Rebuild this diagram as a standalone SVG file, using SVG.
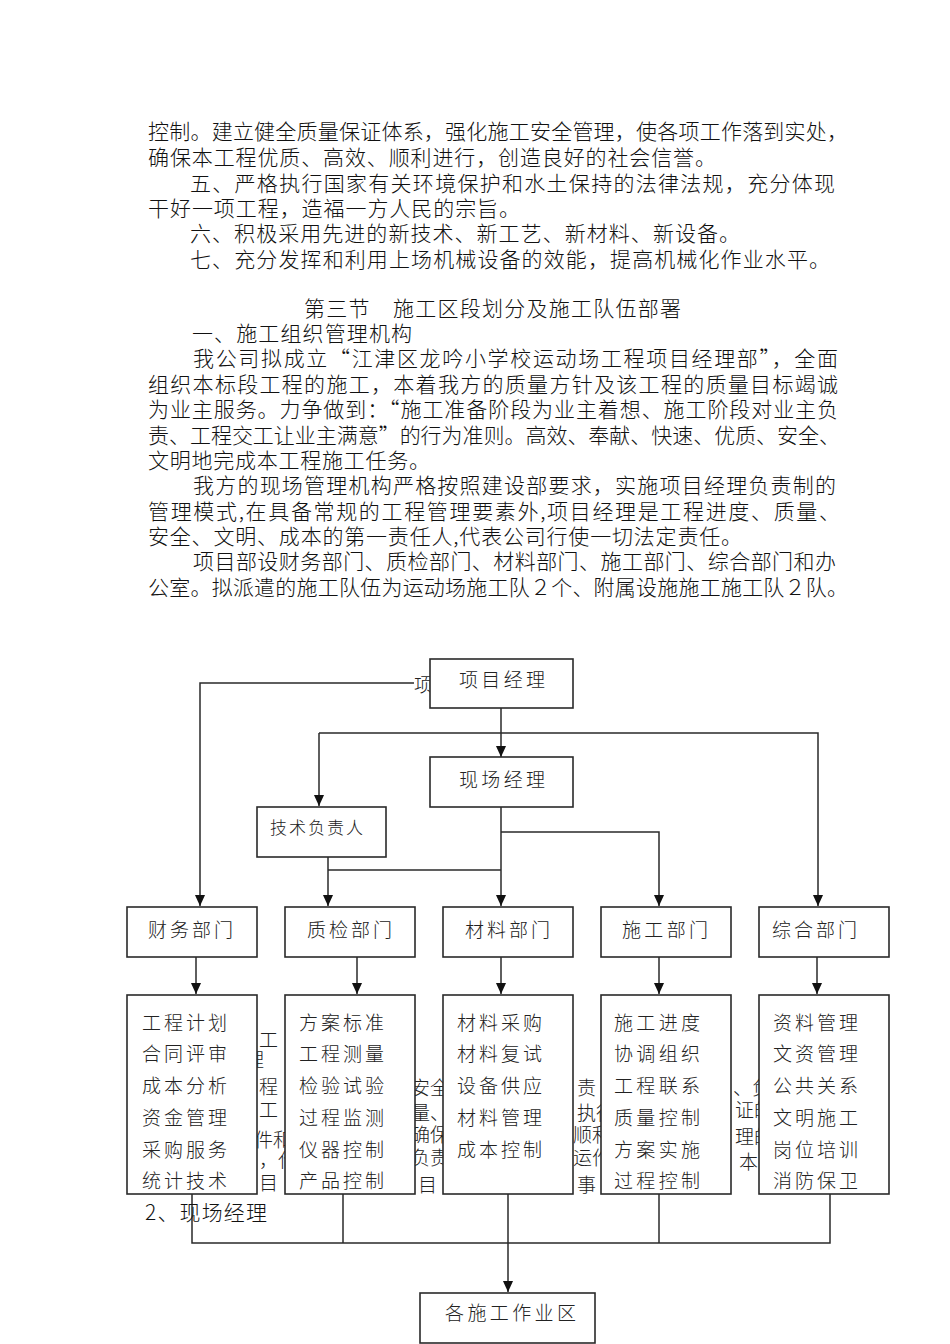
<svg xmlns="http://www.w3.org/2000/svg" width="950" height="1344" viewBox="0 0 950 1344">
<style>
.t{font-family:"Noto Sans CJK SC","Liberation Sans",sans-serif;font-size:21px;font-weight:300;fill:#111}
.f{font-family:"Noto Sans CJK SC","Liberation Sans",sans-serif;font-size:19px;font-weight:300;fill:#222}
.lb{font-family:"Noto Sans CJK SC","Liberation Sans",sans-serif;font-size:19px;font-weight:300;fill:#222}
.sm{font-family:"Noto Sans CJK SC","Liberation Sans",sans-serif;font-size:17px;font-weight:300;fill:#222}
.box{fill:#fff;stroke:#2a2a2a;stroke-width:1.6}
.ln{fill:none;stroke:#2a2a2a;stroke-width:1.5}
</style>
<defs>
<marker id="arr" markerWidth="11" markerHeight="12" refX="12" refY="5.5" orient="auto" markerUnits="userSpaceOnUse" viewBox="0 0 12 11">
<path d="M0,0 L12,5.5 L0,11 Z" fill="#111"/>
</marker>
</defs>

<g id="body-text">
<text class="t" x="148" y="139" textLength="700" lengthAdjust="spacing">控制。建立健全质量保证体系，强化施工安全管理，使各项工作落到实处，</text>
<text class="t" x="148" y="165" textLength="568" lengthAdjust="spacing">确保本工程优质、高效、顺利进行，创造良好的社会信誉。</text>
<text class="t" x="190" y="191" textLength="645" lengthAdjust="spacing">五、严格执行国家有关环境保护和水土保持的法律法规，充分体现</text>
<text class="t" x="148" y="216" textLength="372" lengthAdjust="spacing">干好一项工程，造福一方人民的宗旨。</text>
<text class="t" x="190" y="241" textLength="550" lengthAdjust="spacing">六、积极采用先进的新技术、新工艺、新材料、新设备。</text>
<text class="t" x="190" y="267" textLength="640" lengthAdjust="spacing">七、充分发挥和利用上场机械设备的效能，提高机械化作业水平。</text>
<text class="t" x="304" y="316" textLength="377" lengthAdjust="spacing">第三节　施工区段划分及施工队伍部署</text>
<text class="t" x="192" y="341" textLength="220" lengthAdjust="spacing">一、施工组织管理机构</text>
<text class="t" x="193" y="366" textLength="645" lengthAdjust="spacing">我公司拟成立“江津区龙吟小学校运动场工程项目经理部”，全面</text>
<text class="t" x="148" y="392" textLength="690" lengthAdjust="spacing">组织本标段工程的施工，本着我方的质量方针及该工程的质量目标竭诚</text>
<text class="t" x="148" y="417" textLength="690" lengthAdjust="spacing">为业主服务。力争做到：“施工准备阶段为业主着想、施工阶段对业主负</text>
<text class="t" x="148" y="443" textLength="692" lengthAdjust="spacing">责、工程交工让业主满意”的行为准则。高效、奉献、快速、优质、安全、</text>
<text class="t" x="148" y="468" textLength="282" lengthAdjust="spacing">文明地完成本工程施工任务。</text>
<text class="t" x="193" y="493" textLength="643" lengthAdjust="spacing">我方的现场管理机构严格按照建设部要求，实施项目经理负责制的</text>
<text class="t" x="148" y="519" textLength="692" lengthAdjust="spacing">管理模式,在具备常规的工程管理要素外,项目经理是工程进度、质量、</text>
<text class="t" x="148" y="544" textLength="594" lengthAdjust="spacing">安全、文明、成本的第一责任人,代表公司行使一切法定责任。</text>
<text class="t" x="193" y="569" textLength="643" lengthAdjust="spacing">项目部设财务部门、质检部门、材料部门、施工部门、综合部门和办</text>
<text class="t" x="148" y="595" textLength="700" lengthAdjust="spacing">公室。拟派遣的施工队伍为运动场施工队２个、附属设施施工施工队２队。</text>
</g>

<g id="hidden-fragments">
<text class="f" x="414" y="692">项</text>
<text class="f" x="259" y="1047">工</text>
<text class="f" x="245" y="1067">理</text>
<text class="f" x="259" y="1094">程</text>
<text class="f" x="259" y="1117">工</text>
<text class="f" x="254" y="1147">件和</text>
<text class="f" x="259" y="1167">，代</text>
<text class="f" x="259" y="1190">目</text>
<text class="f" x="411" y="1095">安全</text>
<text class="f" x="411" y="1120">量、</text>
<text class="f" x="411" y="1142">确保</text>
<text class="f" x="411" y="1165">负责</text>
<text class="f" x="418" y="1192">目</text>
<text class="f" x="577" y="1095">责</text>
<text class="f" x="577" y="1120">执行</text>
<text class="f" x="573" y="1142">顺利</text>
<text class="f" x="573" y="1165">运作</text>
<text class="f" x="577" y="1192">事</text>
<text class="f" x="733" y="1095">、负</text>
<text class="f" x="735" y="1117">证的</text>
<text class="f" x="735" y="1144">理的</text>
<text class="f" x="739" y="1169">本</text>
</g>

<g id="connectors">
<polyline class="ln" points="414,683 200,683 200,906" marker-end="url(#arr)"/>
<line class="ln" x1="501" y1="708" x2="501" y2="757" marker-end="url(#arr)"/>
<polyline class="ln" points="319,733 818,733 818,906" marker-end="url(#arr)"/>
<line class="ln" x1="319" y1="733" x2="319" y2="806" marker-end="url(#arr)"/>
<line class="ln" x1="501" y1="807" x2="501" y2="906" marker-end="url(#arr)"/>
<polyline class="ln" points="501,832 659,832 659,906" marker-end="url(#arr)"/>
<line class="ln" x1="328" y1="857" x2="328" y2="906" marker-end="url(#arr)"/>
<line class="ln" x1="328" y1="870" x2="501" y2="870"/>
<line class="ln" x1="196" y1="957" x2="196" y2="994" marker-end="url(#arr)"/>
<line class="ln" x1="357" y1="957" x2="357" y2="994" marker-end="url(#arr)"/>
<line class="ln" x1="501" y1="957" x2="501" y2="994" marker-end="url(#arr)"/>
<line class="ln" x1="659" y1="957" x2="659" y2="994" marker-end="url(#arr)"/>
<line class="ln" x1="817" y1="957" x2="817" y2="994" marker-end="url(#arr)"/>
<polyline class="ln" points="192,1194 192,1243 830,1243 830,1194"/>
<line class="ln" x1="343" y1="1194" x2="343" y2="1243"/>
<line class="ln" x1="659" y1="1194" x2="659" y2="1243"/>
<line class="ln" x1="508" y1="1194" x2="508" y2="1292" marker-end="url(#arr)"/>
</g>

<g id="n-xmjl"><rect class="box" x="430" y="659" width="143" height="49"/><text class="lb" x="459" y="687" textLength="86" lengthAdjust="spacing">项目经理</text></g>
<g id="n-xcjl"><rect class="box" x="430" y="757" width="143" height="50"/><text class="lb" x="459" y="787" textLength="86" lengthAdjust="spacing">现场经理</text></g>
<g id="n-jsfzr"><rect class="box" x="257" y="807" width="129" height="50"/><text class="sm" x="270" y="834" textLength="93" lengthAdjust="spacing">技术负责人</text></g>

<g id="n-cwbm"><rect class="box" x="127" y="907" width="130" height="50"/><text class="lb" x="148" y="937" textLength="85" lengthAdjust="spacing">财务部门</text></g>
<g id="n-zjbm"><rect class="box" x="285" y="907" width="130" height="50"/><text class="lb" x="307" y="937" textLength="85" lengthAdjust="spacing">质检部门</text></g>
<g id="n-clbm"><rect class="box" x="443" y="907" width="130" height="50"/><text class="lb" x="465" y="937" textLength="85" lengthAdjust="spacing">材料部门</text></g>
<g id="n-sgbm"><rect class="box" x="601" y="907" width="130" height="50"/><text class="lb" x="622" y="937" textLength="86" lengthAdjust="spacing">施工部门</text></g>
<g id="n-zhbm"><rect class="box" x="759" y="907" width="130" height="50"/><text class="lb" x="772" y="937" textLength="85" lengthAdjust="spacing">综合部门</text></g>

<g id="n-cw-list"><rect class="box" x="127" y="995" width="130" height="199"/>
<text class="lb" x="142" y="1030" textLength="85" lengthAdjust="spacing">工程计划</text>
<text class="lb" x="142" y="1061" textLength="85" lengthAdjust="spacing">合同评审</text>
<text class="lb" x="142" y="1093" textLength="85" lengthAdjust="spacing">成本分析</text>
<text class="lb" x="142" y="1125" textLength="85" lengthAdjust="spacing">资金管理</text>
<text class="lb" x="142" y="1157" textLength="85" lengthAdjust="spacing">采购服务</text>
<text class="lb" x="142" y="1188" textLength="85" lengthAdjust="spacing">统计技术</text>
</g>
<g id="n-zj-list"><rect class="box" x="285" y="995" width="130" height="199"/>
<text class="lb" x="299" y="1030" textLength="85" lengthAdjust="spacing">方案标准</text>
<text class="lb" x="299" y="1061" textLength="85" lengthAdjust="spacing">工程测量</text>
<text class="lb" x="299" y="1093" textLength="85" lengthAdjust="spacing">检验试验</text>
<text class="lb" x="299" y="1125" textLength="85" lengthAdjust="spacing">过程监测</text>
<text class="lb" x="299" y="1157" textLength="85" lengthAdjust="spacing">仪器控制</text>
<text class="lb" x="299" y="1188" textLength="85" lengthAdjust="spacing">产品控制</text>
</g>
<g id="n-cl-list"><rect class="box" x="443" y="995" width="130" height="199"/>
<text class="lb" x="457" y="1030" textLength="85" lengthAdjust="spacing">材料采购</text>
<text class="lb" x="457" y="1061" textLength="85" lengthAdjust="spacing">材料复试</text>
<text class="lb" x="457" y="1093" textLength="85" lengthAdjust="spacing">设备供应</text>
<text class="lb" x="457" y="1125" textLength="85" lengthAdjust="spacing">材料管理</text>
<text class="lb" x="457" y="1157" textLength="85" lengthAdjust="spacing">成本控制</text>
</g>
<g id="n-sg-list"><rect class="box" x="601" y="995" width="130" height="199"/>
<text class="lb" x="614" y="1030" textLength="86" lengthAdjust="spacing">施工进度</text>
<text class="lb" x="614" y="1061" textLength="86" lengthAdjust="spacing">协调组织</text>
<text class="lb" x="614" y="1093" textLength="86" lengthAdjust="spacing">工程联系</text>
<text class="lb" x="614" y="1125" textLength="86" lengthAdjust="spacing">质量控制</text>
<text class="lb" x="614" y="1157" textLength="86" lengthAdjust="spacing">方案实施</text>
<text class="lb" x="614" y="1188" textLength="86" lengthAdjust="spacing">过程控制</text>
</g>
<g id="n-zh-list"><rect class="box" x="759" y="995" width="130" height="199"/>
<text class="lb" x="773" y="1030" textLength="85" lengthAdjust="spacing">资料管理</text>
<text class="lb" x="773" y="1061" textLength="85" lengthAdjust="spacing">文资管理</text>
<text class="lb" x="773" y="1093" textLength="85" lengthAdjust="spacing">公共关系</text>
<text class="lb" x="773" y="1125" textLength="85" lengthAdjust="spacing">文明施工</text>
<text class="lb" x="773" y="1157" textLength="85" lengthAdjust="spacing">岗位培训</text>
<text class="lb" x="773" y="1188" textLength="85" lengthAdjust="spacing">消防保卫</text>
</g>

<g id="n-xcjl-text"><text class="t" x="145" y="1220" textLength="122" lengthAdjust="spacing">2、现场经理</text></g>

<g id="n-zyq"><rect class="box" x="420" y="1293" width="175" height="50"/><text class="lb" x="445" y="1320" textLength="131" lengthAdjust="spacing">各施工作业区</text></g>
</svg>
